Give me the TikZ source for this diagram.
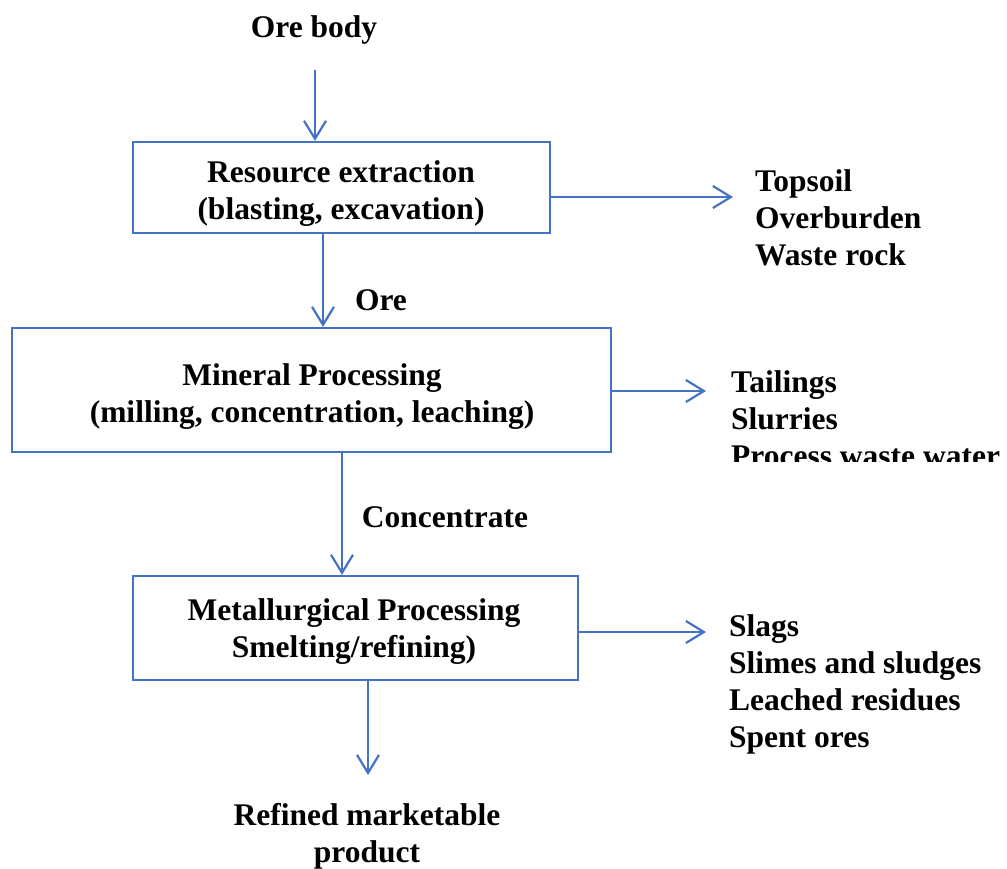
\documentclass[tikz,border=0pt]{standalone}
\usepackage{fontspec}
\setmainfont{Liberation Serif}
\usetikzlibrary{arrows.meta}
\definecolor{lineblue}{HTML}{4472C4}
\begin{document}
\begin{tikzpicture}[x=1pt,y=-1pt,
  every node/.style={font=\fontsize{31.5}{37}\selectfont\bfseries, inner sep=0pt},
  box/.style={draw=lineblue, line width=2.2pt, rectangle},
  arr/.style={draw=lineblue, line width=2.2pt, -{Straight Barb[length=18pt,width=22pt,line width=2.2pt]}},
  lst/.style={align=left, anchor=north west},
  ctr/.style={align=center}]
\useasboundingbox (0,0) rectangle (1007,868);
% boxes
\node[box, minimum width=417pt, minimum height=91pt] (box1) at (341.5,187.5) {};
\node[box, minimum width=599pt, minimum height=124pt] (box2) at (311.5,390) {};
\node[box, minimum width=445pt, minimum height=104pt] (box3) at (355.5,628) {};
% texts
\node[anchor=base] (ore body) at (314,37) {Ore body};
\node[ctr] (t1) at (341,194) {Resource extraction\\(blasting, excavation)};
\node[ctr] (t2) at (312,397) {Mineral Processing\\(milling, concentration, leaching)};
\node[ctr] (t3) at (354,632) {Metallurgical Processing\\Smelting/refining)};
\node[ctr] (prod) at (367,836) {Refined marketable\\product};
\node[anchor=base] (ore) at (381,310) {Ore};
\node[anchor=base] (conc) at (445,527) {Concentrate};
\node[lst] (w1) at (755,169) {Topsoil\\Overburden\\Waste rock};
\begin{scope}
\clip (0,0) rectangle (1007,461);
\node[lst] (w2) at (731,370) {Tailings\\Slurries\\Process waste water};
\end{scope}
\node[lst] (w3) at (729,614) {Slags\\Slimes and sludges\\Leached residues\\Spent ores};
% coordinates
\coordinate (c0) at (315,70);
\coordinate (c1) at (323,0);
\coordinate (c2) at (342,0);
\coordinate (c3) at (368,775);
\coordinate (e1) at (733,197);
\coordinate (e2) at (706,391);
\coordinate (e3) at (706,632);
% connectors
\draw[arr] (c0) -- (c0 |- box1.north);
\draw[arr] (box1.south -| c1) -- (box2.north -| c1);
\draw[arr] (box2.south -| c2) -- (box3.north -| c2);
\draw[arr] (box3.south -| c3) -- (c3);
\draw[arr] (box1.east |- e1) -- (e1);
\draw[arr] (box2.east |- e2) -- (e2);
\draw[arr] (box3.east |- e3) -- (e3);
\end{tikzpicture}
\end{document}
